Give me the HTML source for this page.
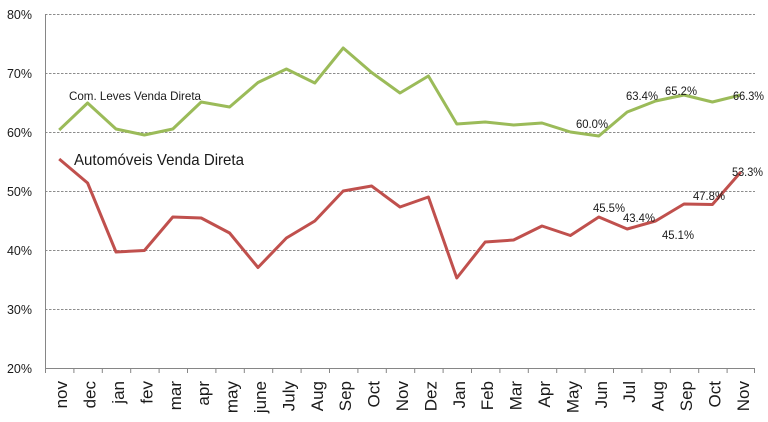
<!DOCTYPE html>
<html>
<head>
<meta charset="utf-8">
<style>
html,body{margin:0;padding:0;background:#fff;}
svg{display:block;}
text{font-family:"Liberation Sans",sans-serif;fill:#1a1a1a;}
</style>
</head>
<body>
<svg width="768" height="422" viewBox="0 0 768 422" xmlns="http://www.w3.org/2000/svg">
  <!-- gridlines -->
  <g stroke="#8c8c8c" stroke-width="1" stroke-dasharray="2.5,1.5">
    <line x1="45" y1="14.5" x2="755" y2="14.5"/>
    <line x1="45" y1="73.5" x2="755" y2="73.5"/>
    <line x1="45" y1="132.5" x2="755" y2="132.5"/>
    <line x1="45" y1="191.5" x2="755" y2="191.5"/>
    <line x1="45" y1="250.5" x2="755" y2="250.5"/>
    <line x1="45" y1="309.5" x2="755" y2="309.5"/>
  </g>
  <!-- axes -->
  <g stroke="#868686" stroke-width="1">
    <line x1="45.5" y1="14" x2="45.5" y2="373"/>
    <line x1="45" y1="368.5" x2="755" y2="368.5"/>
    <line x1="45.5" y1="368" x2="45.5" y2="373"/>
    <line x1="73.9" y1="368" x2="73.9" y2="373"/>
    <line x1="102.3" y1="368" x2="102.3" y2="373"/>
    <line x1="130.7" y1="368" x2="130.7" y2="373"/>
    <line x1="159.1" y1="368" x2="159.1" y2="373"/>
    <line x1="187.5" y1="368" x2="187.5" y2="373"/>
    <line x1="215.9" y1="368" x2="215.9" y2="373"/>
    <line x1="244.3" y1="368" x2="244.3" y2="373"/>
    <line x1="272.7" y1="368" x2="272.7" y2="373"/>
    <line x1="301.1" y1="368" x2="301.1" y2="373"/>
    <line x1="329.5" y1="368" x2="329.5" y2="373"/>
    <line x1="357.9" y1="368" x2="357.9" y2="373"/>
    <line x1="386.3" y1="368" x2="386.3" y2="373"/>
    <line x1="414.7" y1="368" x2="414.7" y2="373"/>
    <line x1="443.1" y1="368" x2="443.1" y2="373"/>
    <line x1="471.5" y1="368" x2="471.5" y2="373"/>
    <line x1="499.9" y1="368" x2="499.9" y2="373"/>
    <line x1="528.3" y1="368" x2="528.3" y2="373"/>
    <line x1="556.7" y1="368" x2="556.7" y2="373"/>
    <line x1="585.1" y1="368" x2="585.1" y2="373"/>
    <line x1="613.5" y1="368" x2="613.5" y2="373"/>
    <line x1="641.9" y1="368" x2="641.9" y2="373"/>
    <line x1="670.3" y1="368" x2="670.3" y2="373"/>
    <line x1="698.7" y1="368" x2="698.7" y2="373"/>
    <line x1="727.1" y1="368" x2="727.1" y2="373"/>
    <line x1="754.5" y1="368" x2="754.5" y2="373"/>
  </g>
  <!-- y labels -->
  <g font-size="12.5" text-anchor="end">
    <text x="32" y="19">80%</text>
    <text x="32" y="78">70%</text>
    <text x="32" y="137">60%</text>
    <text x="32" y="196">50%</text>
    <text x="32" y="255">40%</text>
    <text x="32" y="314">30%</text>
    <text x="32" y="373">20%</text>
  </g>
  <!-- x labels -->
  <g font-size="17" text-anchor="end">
    <text transform="translate(67.2,381) rotate(-90)">nov</text>
    <text transform="translate(95.6,381) rotate(-90)">dec</text>
    <text transform="translate(124,381) rotate(-90)">jan</text>
    <text transform="translate(152.4,381) rotate(-90)">fev</text>
    <text transform="translate(180.8,381) rotate(-90)">mar</text>
    <text transform="translate(209.2,381) rotate(-90)">apr</text>
    <text transform="translate(237.6,381) rotate(-90)">may</text>
    <text transform="translate(266,381) rotate(-90)">june</text>
    <text transform="translate(294.4,381) rotate(-90)">July</text>
    <text transform="translate(322.8,381) rotate(-90)">Aug</text>
    <text transform="translate(351.2,381) rotate(-90)">Sep</text>
    <text transform="translate(379.6,381) rotate(-90)">Oct</text>
    <text transform="translate(408,381) rotate(-90)">Nov</text>
    <text transform="translate(436.4,381) rotate(-90)">Dez</text>
    <text transform="translate(464.8,381) rotate(-90)">Jan</text>
    <text transform="translate(493.2,381) rotate(-90)">Feb</text>
    <text transform="translate(521.6,381) rotate(-90)">Mar</text>
    <text transform="translate(550,381) rotate(-90)">Apr</text>
    <text transform="translate(578.4,381) rotate(-90)">May</text>
    <text transform="translate(606.8,381) rotate(-90)">Jun</text>
    <text transform="translate(635.2,381) rotate(-90)">Jul</text>
    <text transform="translate(663.6,381) rotate(-90)">Aug</text>
    <text transform="translate(692,381) rotate(-90)">Sep</text>
    <text transform="translate(720.4,381) rotate(-90)">Oct</text>
    <text transform="translate(748.8,381) rotate(-90)">Nov</text>
  </g>
  <!-- series -->
  <polyline fill="none" stroke="#9BBB59" stroke-width="3" stroke-linejoin="round"
    points="59.2,130 87.6,103 116,129 144.4,135 172.8,129 201.2,102 229.6,107 258,82.5 286.4,69 314.8,83 343.2,48 371.6,72.5 400,93 428.4,76 456.8,124 485.2,122 513.6,125 542,123 570.4,132 598.8,136 627.2,112 655.6,101 684,95 712.4,102 740.8,95"/>
  <polyline fill="none" stroke="#C0504D" stroke-width="3" stroke-linejoin="round"
    points="59.2,159 87.6,183 116,252 144.4,250.5 172.8,217 201.2,218 229.6,233 258,267.5 286.4,238 314.8,221 343.2,191 371.6,186 400,207 428.4,197 456.8,278 485.2,242 513.6,240 542,226 570.4,235.5 598.8,217 627.2,229 655.6,221 684,204 712.4,204.5 740.8,172"/>
  <!-- series labels -->
  <text x="69" y="100" font-size="12" textLength="132" lengthAdjust="spacingAndGlyphs">Com. Leves Venda Direta</text>
  <text x="74" y="165" font-size="16" textLength="170" lengthAdjust="spacingAndGlyphs">Automóveis Venda Direta</text>
  <!-- data labels -->
  <g font-size="12">
    <text x="576" y="128" textLength="32" lengthAdjust="spacingAndGlyphs">60.0%</text>
    <text x="626" y="100" textLength="32" lengthAdjust="spacingAndGlyphs">63.4%</text>
    <text x="665" y="95" textLength="32" lengthAdjust="spacingAndGlyphs">65.2%</text>
    <text x="733" y="100" textLength="31" lengthAdjust="spacingAndGlyphs">66.3%</text>
    <text x="732" y="176" textLength="31" lengthAdjust="spacingAndGlyphs">53.3%</text>
    <text x="693" y="200" textLength="32" lengthAdjust="spacingAndGlyphs">47.8%</text>
    <text x="593" y="212" textLength="32" lengthAdjust="spacingAndGlyphs">45.5%</text>
    <text x="623" y="222" textLength="32" lengthAdjust="spacingAndGlyphs">43.4%</text>
    <text x="662" y="239" textLength="32" lengthAdjust="spacingAndGlyphs">45.1%</text>
  </g>
</svg>
</body>
</html>
